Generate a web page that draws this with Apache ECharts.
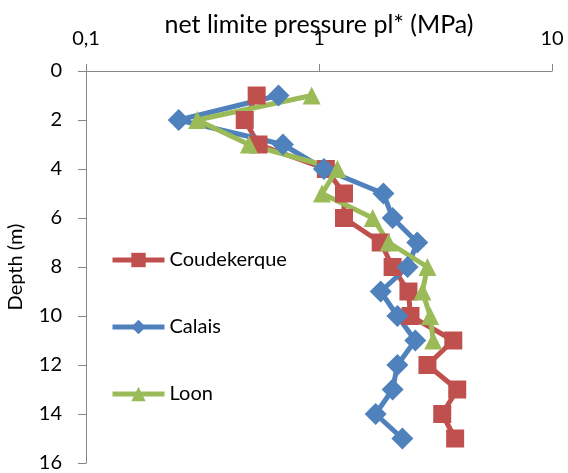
<!DOCTYPE html>
<html>
<head>
<meta charset="utf-8">
<script src="https://cdn.jsdelivr.net/npm/echarts@6/dist/echarts.min.js"></script>
<style>
html, body { margin: 0; padding: 0; background: #fff; }
#chart { width: 568px; height: 473px; }
</style>
</head>
<body>
<div id="chart"></div>
<script>
var depths = [1, 2, 3, 4, 5, 6, 7, 8, 9, 10, 11, 12, 13, 14, 15];
var coudekerque = [0.54, 0.48, 0.55, 1.07, 1.28, 1.28, 1.84, 2.07, 2.42, 2.47, 3.77, 2.92, 3.92, 3.38, 3.84];
var calais = [0.67, 0.25, 0.70, 1.05, 1.89, 2.07, 2.64, 2.40, 1.84, 2.17, 2.59, 2.17, 2.07, 1.75, 2.28];
var loon = [0.93, 0.30, 0.50, 1.20, 1.03, 1.70, 1.99, 2.92, 2.78, 3.00, 3.09];

function pairs(vals) {
    return vals.map(function (v, i) { return [v, depths[i]]; });
}

var myChart = echarts.init(document.getElementById('chart'));
var font = 'Lato';

var option = {
    animation: false,
    textStyle: { fontFamily: font },
    grid: { left: 86, right: 16, top: 71, bottom: 10, outerBoundsMode: 'none' },
    legend: {
        orient: 'vertical',
        left: 105,
        top: 245,
        itemWidth: 52,
        itemHeight: 18,
        itemGap: 47,
        lineStyle: { width: 5 },
        textStyle: { fontFamily: font, fontSize: 20, color: '#000' },
        data: ['Coudekerque', 'Calais', 'Loon']
    },
    xAxis: {
        type: 'log',
        logBase: 10,
        min: 0.1,
        max: 10,
        position: 'top',
        name: 'net limite pressure pl* (MPa)',
        nameLocation: 'middle',
        nameGap: 34,
        nameMoveOverlap: false,
        nameTextStyle: { fontFamily: font, fontSize: 25, color: '#000' },
        axisLine: { lineStyle: { color: '#868686', width: 1 } },
        axisTick: { show: true, length: 7, lineStyle: { color: '#868686' } },
        minorTick: { show: false },
        splitLine: { show: false },
        axisLabel: {
            fontFamily: font, fontSize: 20, color: '#000', margin: 22,
            formatter: function (v) { return String(v).replace('.', ','); }
        }
    },
    yAxis: {
        type: 'value',
        inverse: true,
        min: 0,
        max: 16,
        interval: 2,
        name: 'Depth (m)',
        nameLocation: 'middle',
        nameGap: 60,
        nameTextStyle: { fontFamily: font, fontSize: 20, color: '#000' },
        axisLine: { show: true, lineStyle: { color: '#868686', width: 1 } },
        axisTick: { show: true, length: 8, lineStyle: { color: '#868686' } },
        splitLine: { show: false },
        axisLabel: { fontFamily: font, fontSize: 20, color: '#000', margin: 24 }
    },
    series: [
        {
            name: 'Coudekerque',
            type: 'line',
            data: pairs(coudekerque),
            symbol: 'rect',
            symbolSize: 18,
            lineStyle: { width: 5, color: '#C0504D' },
            itemStyle: { color: '#C0504D' }
        },
        {
            name: 'Calais',
            type: 'line',
            data: pairs(calais),
            symbol: 'diamond',
            symbolSize: 22,
            lineStyle: { width: 5, color: '#4F81BD' },
            itemStyle: { color: '#4F81BD' }
        },
        {
            name: 'Loon',
            type: 'line',
            data: pairs(loon),
            symbol: 'triangle',
            symbolSize: 18,
            lineStyle: { width: 5, color: '#9BBB59' },
            itemStyle: { color: '#9BBB59' }
        }
    ]
};

myChart.setOption(option);
</script>
</body>
</html>
